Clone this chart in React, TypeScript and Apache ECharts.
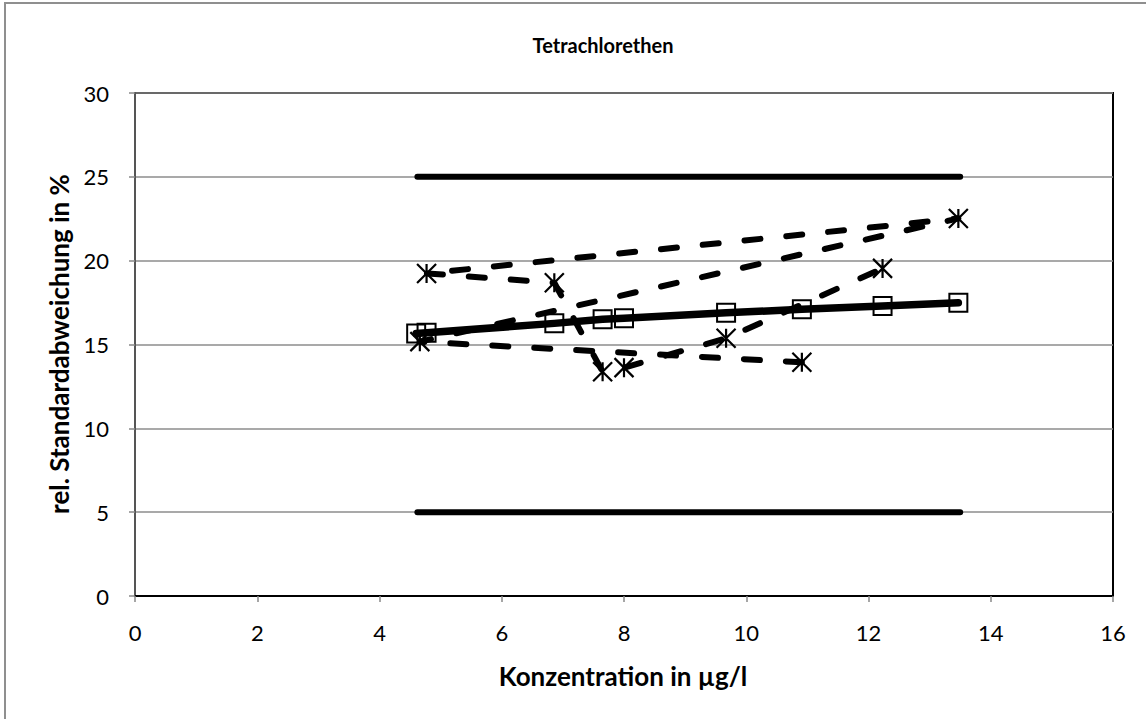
import React, { useEffect, useRef } from "react";
import * as echarts from "echarts";

const chartTitle = "Tetrachlorethen";
const xAxisTitle = "Konzentration in µg/l";
const yAxisTitle = "rel. Standardabweichung in %";

// Mean / fitted relative standard deviation (squares, solid line)
const squareX = [4.6, 4.77, 6.86, 7.65, 8.0, 9.67, 10.91, 12.23, 13.47];
const squareY = [15.66, 15.7, 16.26, 16.5, 16.56, 16.89, 17.1, 17.29, 17.49];

// Individual values (asterisks, dashed line), in data order
const starX = [10.91, 4.66, 13.47, 4.77, 6.86, 7.65, 8.0, 9.67, 12.23];
const starY = [13.94, 15.17, 22.52, 19.24, 18.68, 13.38, 13.62, 15.37, 19.54];

// Limit lines
const limitX = [4.62, 13.5];
const upperLimit = 25;
const lowerLimit = 5;

const FONT = "Lato";

export default function App() {
  const ref = useRef<HTMLDivElement>(null);

  useEffect(() => {
    document.body.style.margin = "0";
    if (!ref.current) return;
    const chart = echarts.init(ref.current, undefined, { renderer: "svg" });

    const squares = squareX.map((x, i) => [x, squareY[i]]);
    const stars = starX.map((x, i) => [x, starY[i]]);
    const upper = limitX.map((x) => [x, upperLimit]);
    const lower = limitX.map((x) => [x, lowerLimit]);

    const asterisk = "path://M0,0L20,20M0,20L20,0M10,0L10,20";

    chart.setOption({
      animation: false,
      backgroundColor: "#ffffff",
      grid: {
        left: 135,
        top: 93,
        right: 33,
        bottom: 123,
        show: true,
        borderColor: "#000",
        borderWidth: 2,
        backgroundColor: "transparent",
      },
      xAxis: {
        type: "value",
        min: 0,
        max: 16,
        interval: 2,
        axisLine: { show: true, onZero: false, lineStyle: { color: "#000", width: 2 } },
        axisTick: { show: true, inside: false, length: 6, lineStyle: { color: "#888", width: 1.5 } },
        splitLine: { show: false },
        axisLabel: { color: "#000", fontFamily: FONT, fontSize: 22, margin: 25 },
      },
      yAxis: {
        type: "value",
        min: 0,
        max: 30,
        interval: 5,
        axisLine: { show: true, onZero: false, lineStyle: { color: "#555", width: 2 } },
        axisTick: { show: true, inside: false, length: 6, lineStyle: { color: "#888", width: 1.5 } },
        splitLine: { show: true, lineStyle: { color: "#8c8c8c", width: 1.5 } },
        axisLabel: { color: "#000", fontFamily: FONT, fontSize: 22, margin: 26 },
      },
      graphic: [
        {
          type: "rect",
          shape: { x: 5, y: 3, width: 1400, height: 1000 },
          style: { fill: "none", stroke: "#8f8f8f", lineWidth: 2 },
          silent: true,
          z: 0,
        },
        {
          type: "text",
          x: 603,
          y: 45,
          style: {
            text: chartTitle,
            fontFamily: FONT,
            fontWeight: "bold",
            fontSize: 20,
            fill: "#000",
            align: "center",
            verticalAlign: "middle",
          },
        },
        {
          type: "text",
          x: 623,
          y: 676,
          style: {
            text: xAxisTitle,
            fontFamily: FONT,
            fontWeight: "bold",
            fontSize: 26,
            fill: "#000",
            align: "center",
            verticalAlign: "middle",
          },
        },
        {
          type: "text",
          x: 59,
          y: 344,
          rotation: Math.PI / 2,
          style: {
            text: yAxisTitle,
            fontFamily: FONT,
            fontWeight: "bold",
            fontSize: 26,
            fill: "#000",
            align: "center",
            verticalAlign: "middle",
          },
        },
      ],
      series: [
        {
          type: "line",
          data: upper,
          symbol: "none",
          lineStyle: { color: "#000", width: 6, cap: "round" },
          z: 3,
        },
        {
          type: "line",
          data: lower,
          symbol: "none",
          lineStyle: { color: "#000", width: 6, cap: "round" },
          z: 3,
        },
        {
          type: "line",
          data: squares,
          symbol: "rect",
          symbolSize: 18,
          itemStyle: { color: "transparent", borderColor: "#000", borderWidth: 2 },
          lineStyle: { color: "#000", width: 7.5, cap: "round", join: "round" },
          z: 4,
        },
        {
          type: "line",
          data: stars,
          symbol: asterisk,
          symbolSize: 19,
          itemStyle: { color: "#000", borderColor: "#000", borderWidth: 2.2 },
          lineStyle: { color: "#000", width: 6, type: [16, 26], cap: "round", join: "round" },
          z: 5,
        },
      ],
    });

    return () => chart.dispose();
  }, []);

  return (
    <div
      ref={ref}
      style={{ position: "fixed", left: 0, top: 0, width: 1146, height: 719 }}
    />
  );
}
